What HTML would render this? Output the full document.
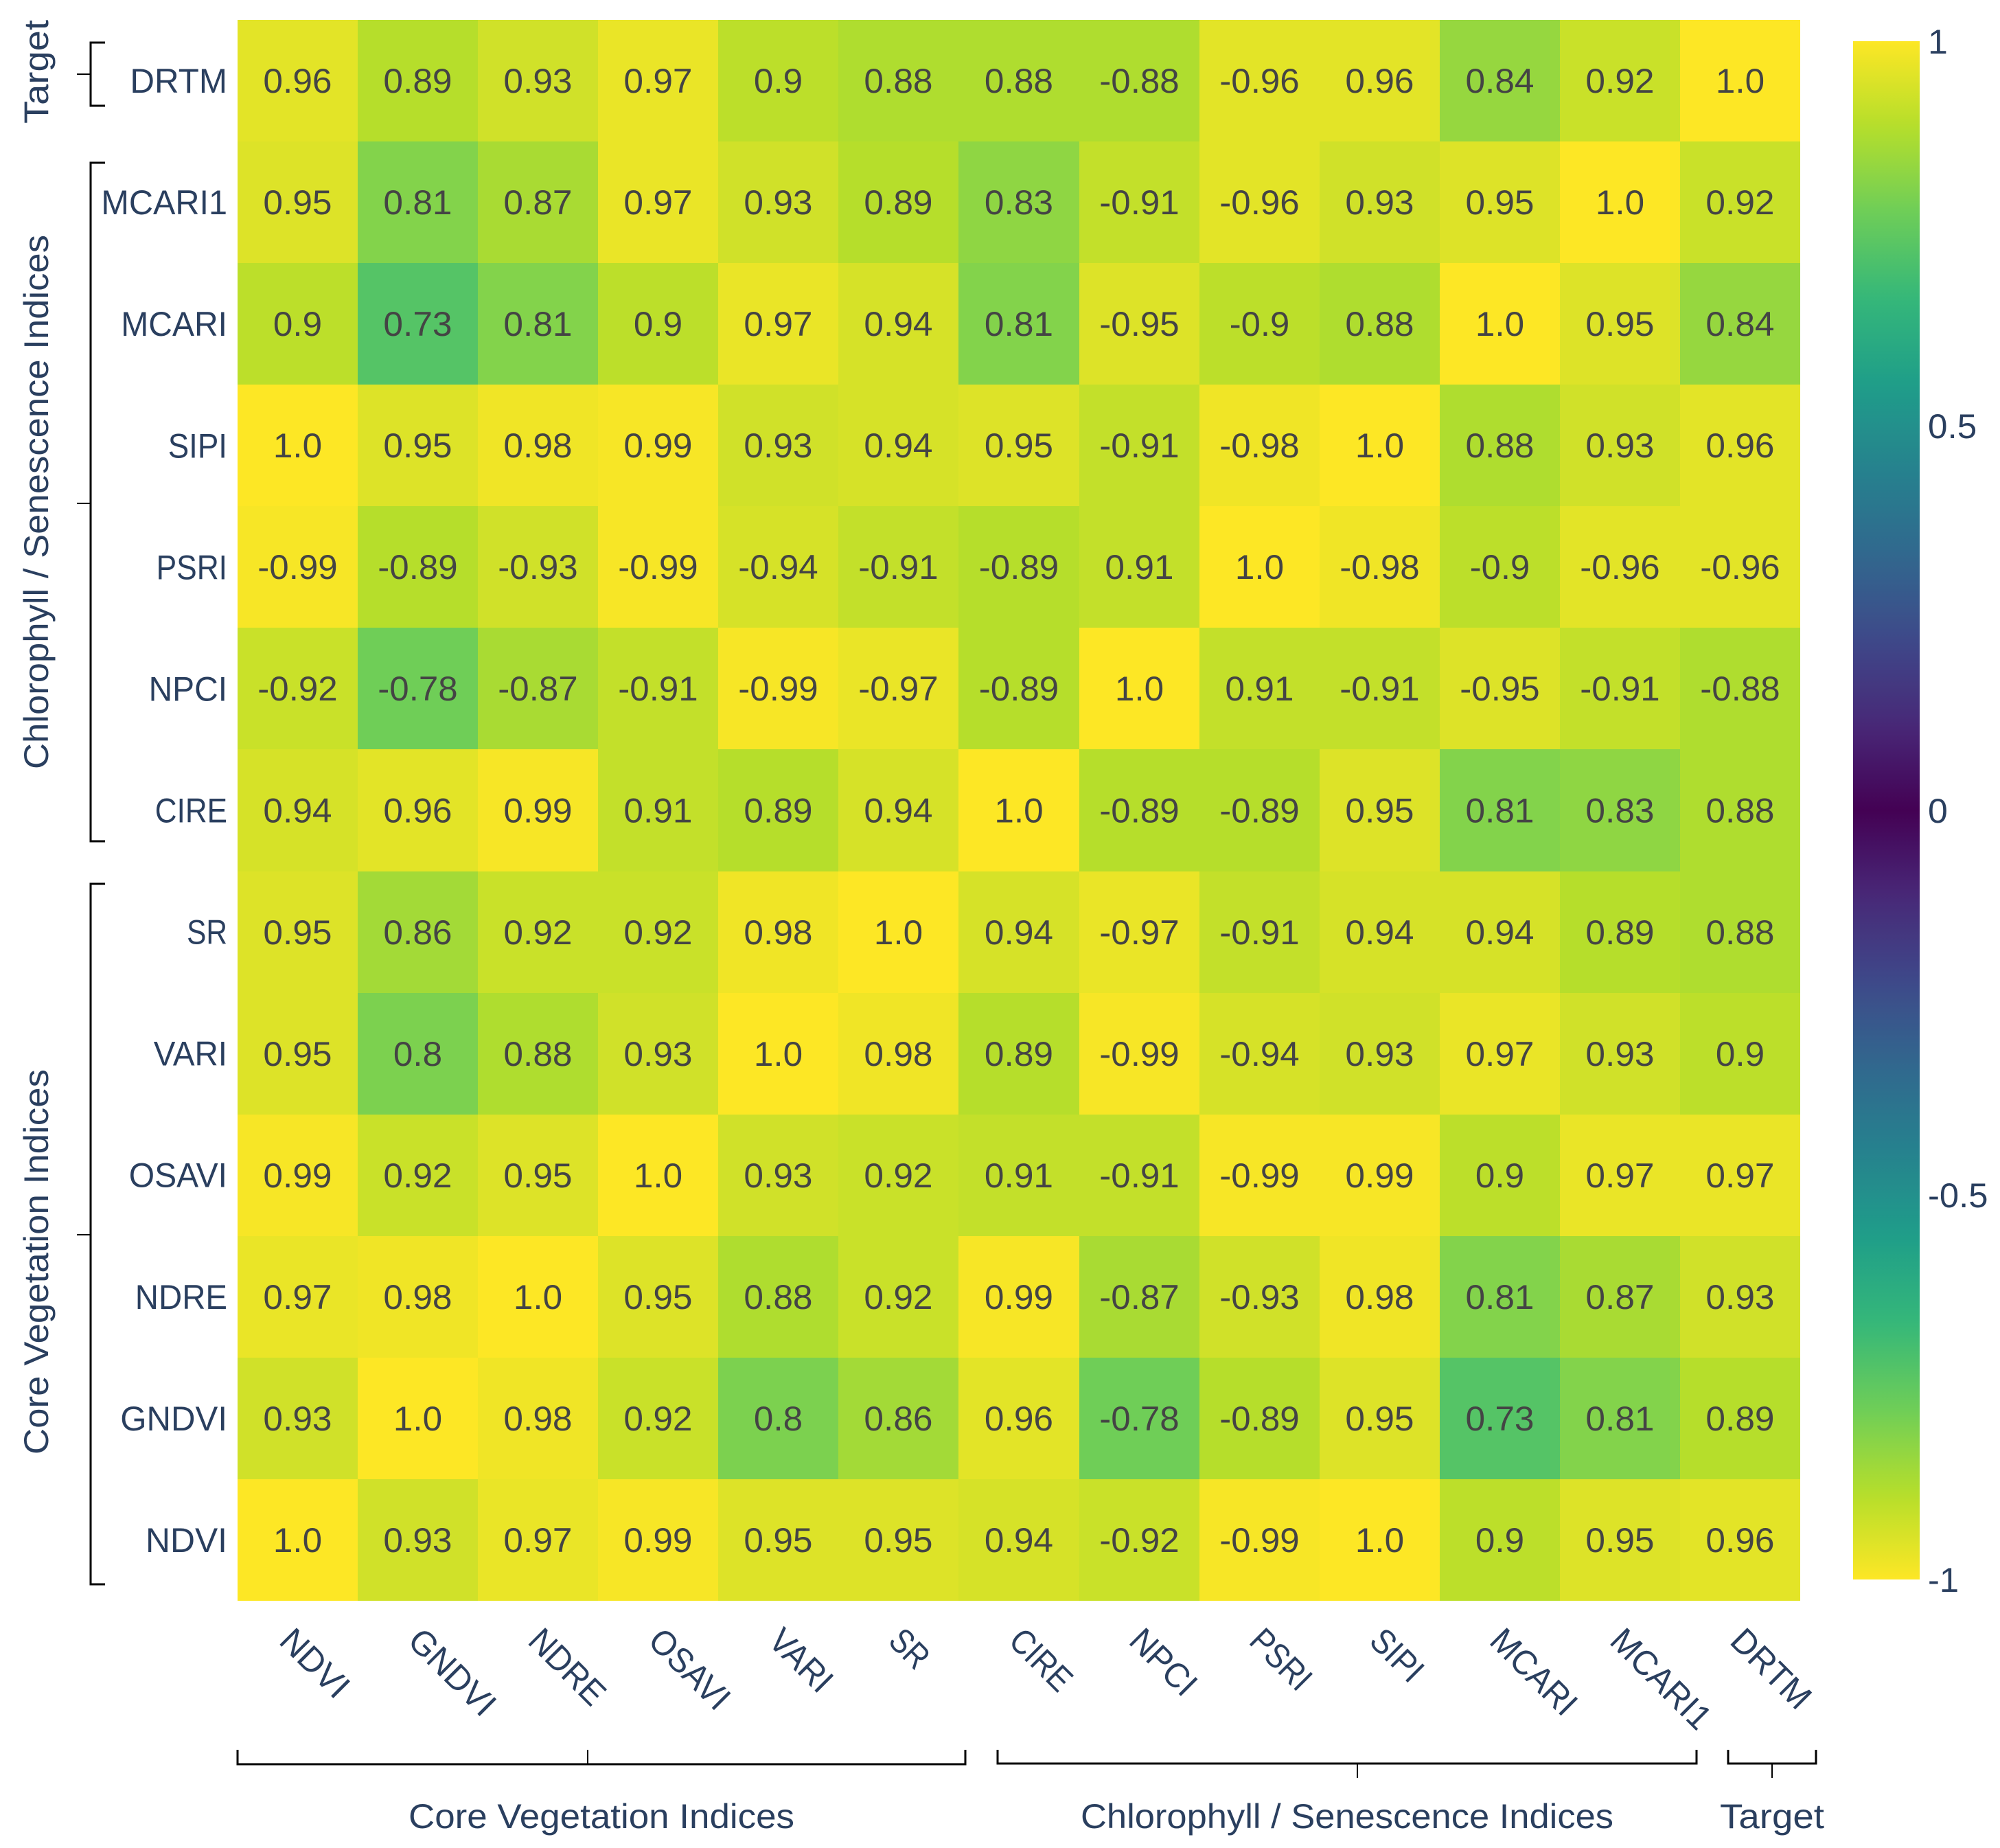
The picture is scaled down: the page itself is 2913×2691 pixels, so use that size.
<!DOCTYPE html>
<html lang="en">
<head>
<meta charset="utf-8">
<title>Index correlation heatmap</title>
<style>
html,body{margin:0;padding:0;background:#fff;width:2913px;height:2691px;overflow:hidden}
svg{display:block;font-family:"Liberation Sans",sans-serif}
.lab{fill:#2a3f5f}
.val{fill:#444}
.br{stroke:#000;stroke-width:3;fill:none}
.tk{stroke:#000;stroke-width:2;fill:none}
</style>
</head>
<body>
<svg id="chart" xmlns="http://www.w3.org/2000/svg" width="2913" height="2691" viewBox="0 0 2913 2691">
  <defs>
    <linearGradient id="cbGrad" x1="0" y1="0" x2="0" y2="1"></linearGradient>
  </defs>
  <rect width="2913" height="2691" fill="#fff"/>
  <g id="cells" shape-rendering="crispEdges"></g>
  <g id="values"></g>
  <g id="ylabels"></g>
  <g id="xlabels"></g>

  <g shape-rendering="crispEdges">
    <path class="br" d="M153 62H132V154H153"/><path class="tk" d="M112 108H132"/>
  </g>
  <g shape-rendering="crispEdges">
    <path class="br" d="M153 237H132V1225H153"/><path class="tk" d="M112 733H132"/>
  </g>
  <g shape-rendering="crispEdges">
    <path class="br" d="M153 1287H132V2307H153"/><path class="tk" d="M112 1798H132"/>
  </g>
  <g shape-rendering="crispEdges">
    <path class="br" d="M346 2548V2569H1406V2548"/><path class="tk" d="M856 2548V2569"/>
  </g>
  <g shape-rendering="crispEdges">
    <path class="br" d="M1453 2548V2568H2471V2548"/><path class="tk" d="M1977 2568V2589"/>
  </g>
  <g shape-rendering="crispEdges">
    <path class="br" d="M2517 2548V2568H2645V2548"/><path class="tk" d="M2581 2568V2589"/>
  </g>

  <text class="lab" x="595" y="2662" font-size="50.5" textLength="562" lengthAdjust="spacingAndGlyphs">Core Vegetation Indices</text>
  <text class="lab" x="1574" y="2662" font-size="50.5" textLength="776" lengthAdjust="spacingAndGlyphs">Chlorophyll / Senescence Indices</text>
  <text class="lab" x="2505" y="2662" font-size="50.5" textLength="152" lengthAdjust="spacingAndGlyphs">Target</text>
  <text class="lab" transform="translate(70 180) rotate(-90)" font-size="50.5" textLength="151" lengthAdjust="spacingAndGlyphs">Target</text>
  <text class="lab" transform="translate(70 1120) rotate(-90)" font-size="50.5" textLength="778" lengthAdjust="spacingAndGlyphs">Chlorophyll / Senescence Indices</text>
  <text class="lab" transform="translate(70 2118) rotate(-90)" font-size="50.5" textLength="561" lengthAdjust="spacingAndGlyphs">Core Vegetation Indices</text>

  <rect x="2699" y="60" width="97" height="2240" fill="url(#cbGrad)"/>
  <g id="cbticks"></g>
</svg>
<script>
const xCategories = ["NDVI","GNDVI","NDRE","OSAVI","VARI","SR","CIRE","NPCI","PSRI","SIPI","MCARI","MCARI1","DRTM"];
const yCategories = ["DRTM","MCARI1","MCARI","SIPI","PSRI","NPCI","CIRE","SR","VARI","OSAVI","NDRE","GNDVI","NDVI"];
const rowDRTM   = [0.96,0.89,0.93,0.97,0.9,0.88,0.88,-0.88,-0.96,0.96,0.84,0.92,1.0];
const rowMCARI1 = [0.95,0.81,0.87,0.97,0.93,0.89,0.83,-0.91,-0.96,0.93,0.95,1.0,0.92];
const rowMCARI  = [0.9,0.73,0.81,0.9,0.97,0.94,0.81,-0.95,-0.9,0.88,1.0,0.95,0.84];
const rowSIPI   = [1.0,0.95,0.98,0.99,0.93,0.94,0.95,-0.91,-0.98,1.0,0.88,0.93,0.96];
const rowPSRI   = [-0.99,-0.89,-0.93,-0.99,-0.94,-0.91,-0.89,0.91,1.0,-0.98,-0.9,-0.96,-0.96];
const rowNPCI   = [-0.92,-0.78,-0.87,-0.91,-0.99,-0.97,-0.89,1.0,0.91,-0.91,-0.95,-0.91,-0.88];
const rowCIRE   = [0.94,0.96,0.99,0.91,0.89,0.94,1.0,-0.89,-0.89,0.95,0.81,0.83,0.88];
const rowSR     = [0.95,0.86,0.92,0.92,0.98,1.0,0.94,-0.97,-0.91,0.94,0.94,0.89,0.88];
const rowVARI   = [0.95,0.8,0.88,0.93,1.0,0.98,0.89,-0.99,-0.94,0.93,0.97,0.93,0.9];
const rowOSAVI  = [0.99,0.92,0.95,1.0,0.93,0.92,0.91,-0.91,-0.99,0.99,0.9,0.97,0.97];
const rowNDRE   = [0.97,0.98,1.0,0.95,0.88,0.92,0.99,-0.87,-0.93,0.98,0.81,0.87,0.93];
const rowGNDVI  = [0.93,1.0,0.98,0.92,0.8,0.86,0.96,-0.78,-0.89,0.95,0.73,0.81,0.89];
const rowNDVI   = [1.0,0.93,0.97,0.99,0.95,0.95,0.94,-0.92,-0.99,1.0,0.9,0.95,0.96];
const zRows = [rowDRTM,rowMCARI1,rowMCARI,rowSIPI,rowPSRI,rowNPCI,rowCIRE,rowSR,rowVARI,rowOSAVI,rowNDRE,rowGNDVI,rowNDVI];
const colorbarTicks = [1,0.5,0,-0.5,-1];

const NS = "http://www.w3.org/2000/svg";
const plotLeft = 346, plotRight = 2622, plotTop = 29, plotBottom = 2331;
const cbTop = 60, cbBottom = 2300;
const FS = 50.5;
const viridis = [[68,1,84],[72,40,120],[62,73,137],[49,104,142],[38,130,142],[31,158,137],[53,183,121],[110,206,88],[181,222,43],[253,231,37]];
const advance = {A:.633,B:.648,C:.631,D:.729,E:.556,G:.728,I:.279,M:.903,N:.754,O:.779,P:.602,R:.618,S:.549,T:.553,V:.595,
  "0":.572,"1":.572,"2":.572,"3":.572,"4":.572,"5":.572,"6":.572,"7":.572,"8":.572,"9":.572,".":.266,"-":.322};

function xBand(i){ return plotLeft + (plotRight - plotLeft) / xCategories.length * i; }
function yBand(i){ return plotTop + (plotBottom - plotTop) / yCategories.length * i; }
function cbY(v){ return cbTop + (1 - v) / 2 * (cbBottom - cbTop); }
function colorFor(v){
  const t = Math.min(1, Math.abs(v)) * (viridis.length - 1);
  const a = Math.min(viridis.length - 2, Math.floor(t));
  const f = t - a;
  const c = viridis[a].map(function(p, k){ return Math.round(p + (viridis[a + 1][k] - p) * f); });
  return "rgb(" + c.join(",") + ")";
}
function fmt(v){ return Math.abs(v) === 1 ? (v < 0 ? "-1.0" : "1.0") : String(v); }
function widthOf(s){
  let w = 0;
  for (const ch of s) w += (advance[ch] || .57);
  return w * FS;
}
function addText(parent, cls, str){
  const t = document.createElementNS(NS, "text");
  t.setAttribute("class", cls);
  t.setAttribute("font-size", FS);
  t.setAttribute("textLength", widthOf(str).toFixed(1));
  t.setAttribute("lengthAdjust", "spacingAndGlyphs");
  t.textContent = str;
  parent.appendChild(t);
  return t;
}

const cellsG = document.getElementById("cells");
const valuesG = document.getElementById("values");
const ylabelsG = document.getElementById("ylabels");
const xlabelsG = document.getElementById("xlabels");
const cbG = document.getElementById("cbticks");
const grad = document.getElementById("cbGrad");

zRows.forEach(function(row, r){
  row.forEach(function(v, c){
    const x0 = Math.round(xBand(c)), x1 = Math.round(xBand(c + 1));
    const y0 = Math.round(yBand(r)), y1 = Math.round(yBand(r + 1));
    const rect = document.createElementNS(NS, "rect");
    rect.setAttribute("x", x0);
    rect.setAttribute("y", y0);
    rect.setAttribute("width", x1 - x0);
    rect.setAttribute("height", y1 - y0);
    rect.setAttribute("fill", colorFor(v));
    
    
    cellsG.appendChild(rect);

    const t = addText(valuesG, "val", fmt(v));
    t.setAttribute("x", ((x0 + x1) / 2).toFixed(1));
    t.setAttribute("y", ((y0 + y1) / 2 + 17.5).toFixed(1));
    t.setAttribute("text-anchor", "middle");
    
    
  });
});

yCategories.forEach(function(name, r){
  const t = addText(ylabelsG, "lab", name);
  t.setAttribute("x", 331);
  t.setAttribute("y", ((yBand(r) + yBand(r + 1)) / 2 + 17.5).toFixed(1));
  t.setAttribute("text-anchor", "end");
  
  
});

xCategories.forEach(function(name, c){
  const cx = (xBand(c) + xBand(c + 1)) / 2;
  const off = c === 0 ? -29 : -17;
  const t = addText(xlabelsG, "lab", name);
  t.setAttribute("transform", "translate(" + (cx + off).toFixed(1) + " 2392) rotate(45)");
  
  
});

for (let i = 0; i <= 100; i++) {
  const v = 1 - i / 50;
  const s = document.createElementNS(NS, "stop");
  s.setAttribute("offset", (i / 100).toFixed(2));
  s.setAttribute("stop-color", colorFor(v));
  grad.appendChild(s);
}

colorbarTicks.forEach(function(v){
  const t = addText(cbG, "lab", String(v));
  t.setAttribute("x", 2808);
  t.setAttribute("y", (cbY(v) + 18).toFixed(1));
  
  
});
</script>
</body>
</html>
